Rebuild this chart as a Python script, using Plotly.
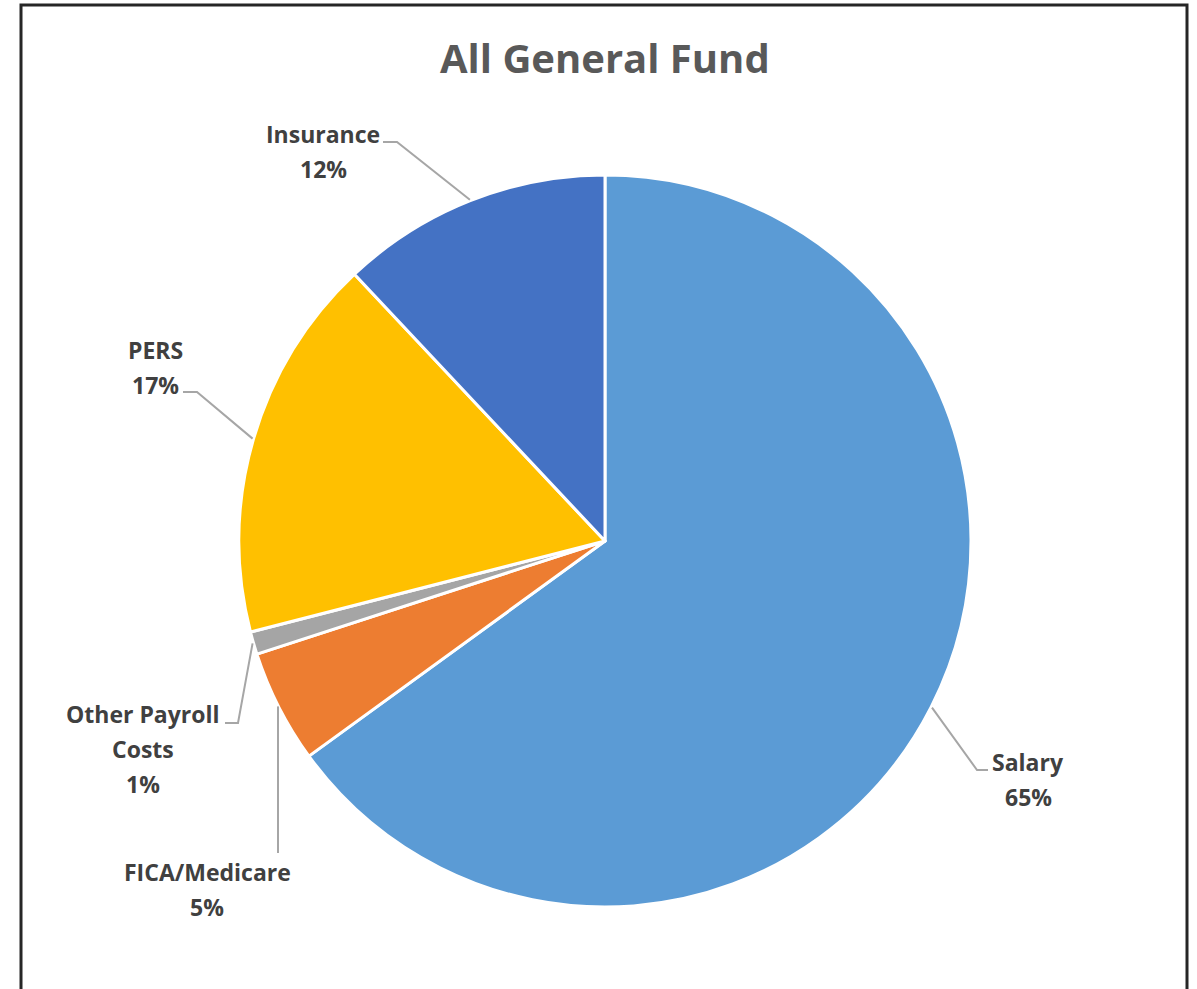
import math
import plotly.graph_objects as go

# Payroll cost breakdown for the general fund (percent of total)
categories = ["Salary", "FICA/Medicare", "Other Payroll Costs", "PERS", "Insurance"]
shares = [65, 5, 1, 17, 12]
label_lines = [["Salary", "65%"], ["FICA/Medicare", "5%"],
               ["Other Payroll", "Costs", "1%"], ["PERS", "17%"], ["Insurance", "12%"]]
colors = ["#5B9BD5", "#ED7D31", "#A5A5A5", "#FFC000", "#4472C4"]

W, H = 1197, 989
CX, CY, R = 605, 541, 366          # pie centre and radius in pixels
LINE_GAP = 35                      # spacing between label lines

# label placement: (centre x, first baseline y), leader start, leader elbow
label_pos = [(1028, 770), (207, 880), (143, 722), (155, 358), (323, 142)]
leader_start = [(988, 770), (282, 853), (225, 723), (183, 392), (383, 142)]
leader_elbow = [(977, 770), (282, 853), (238, 723), (197, 392), (397, 142)]
vertical_leader = [False, True, False, False, False]


def px(x):
    return x / W


def py(y):
    return 1 - y / H


fig = go.Figure(go.Pie(
    labels=categories,
    values=shares,
    sort=False,
    direction="clockwise",
    rotation=0,
    marker=dict(colors=colors, line=dict(color="white", width=3)),
    textinfo="none",
    hoverinfo="label+percent",
    showlegend=False,
    domain=dict(x=[px(CX - R), px(CX + R)], y=[py(CY + R), py(CY - R)]),
))

total = sum(shares)
annotations = []
shapes = []
cum = 0
for i, v in enumerate(shares):
    mid = (cum + v / 2) / total * 2 * math.pi
    cum += v
    ex = CX + (R + 1) * math.sin(mid)
    ey = CY - (R + 1) * math.cos(mid)
    sx, sy = leader_start[i]
    bx, by = leader_elbow[i]
    if vertical_leader[i]:
        sx = bx = ex
        ey = CY + math.sqrt(max(R * R - (ex - CX) ** 2, 0)) + 1
    shapes.append(dict(
        type="path", xref="paper", yref="paper",
        path=f"M {px(sx)} {py(sy)} L {px(bx)} {py(by)} L {px(ex)} {py(ey)}",
        line=dict(color="#A6A6A6", width=2),
    ))
    lx, ly = label_pos[i]
    for k, t in enumerate(label_lines[i]):
        annotations.append(dict(
            text=t, xref="paper", yref="paper",
            x=px(lx), y=py(ly + k * LINE_GAP - 8),
            xanchor="center", yanchor="middle", showarrow=False,
            font=dict(family="Open Sans", size=23, color="#404040", weight="bold"),
        ))

annotations.append(dict(
    text="All General Fund", xref="paper", yref="paper",
    x=px(605), y=py(57), xanchor="center", yanchor="middle", showarrow=False,
    font=dict(family="Open Sans", size=40, color="#595959", weight="bold"),
))

# outer frame around the chart
shapes.append(dict(
    type="rect", xref="paper", yref="paper",
    x0=px(21), x1=px(1187), y0=py(1010), y1=py(5),
    line=dict(color="#262626", width=3), fillcolor="rgba(0,0,0,0)",
))

fig.update_layout(
    width=W, height=H,
    margin=dict(l=0, r=0, t=0, b=0),
    paper_bgcolor="white",
    plot_bgcolor="white",
    annotations=annotations,
    shapes=shapes,
)

fig.write_html("out.html")
